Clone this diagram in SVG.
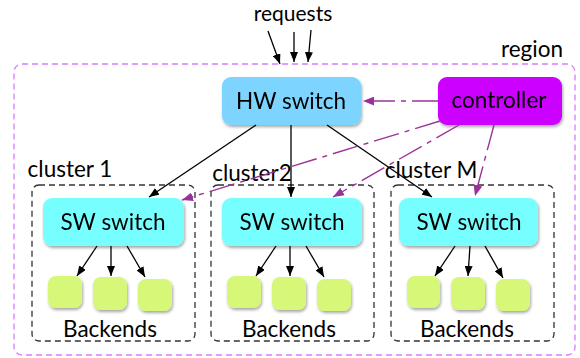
<svg xmlns="http://www.w3.org/2000/svg" width="580" height="358" viewBox="0 0 580 358">
<defs>
<filter id="sh" x="-10%" y="-10%" width="130%" height="140%">
<feDropShadow dx="1" dy="2" stdDeviation="1.5" flood-color="#000" flood-opacity="0.35"/>
</filter>
<marker id="ab" viewBox="0 0 10 8" refX="10" refY="4" markerWidth="10" markerHeight="8" markerUnits="userSpaceOnUse" orient="auto">
<path d="M0,0 L10,4 L0,8 Z" fill="#000"/>
</marker>
<marker id="ap" viewBox="0 0 10 8" refX="10" refY="4" markerWidth="11" markerHeight="9" markerUnits="userSpaceOnUse" orient="auto">
<path d="M0,0 L10,4 L0,8 Z" fill="#993399"/>
</marker>
</defs>
<style>
text{font-family:Lato,"Open Sans","Liberation Sans",sans-serif;fill:#000;}
.lbl{font-size:22.5px;text-anchor:middle;}
.hw{fill:#7dd5ff;}
.ctl{fill:#cc00ff;}
.sw{fill:#77ffff;}
.be{fill:#d6f778;}
.node{filter:url(#sh);}
.cl{fill:none;stroke:#333;stroke-width:1.3;stroke-dasharray:6,4;}
.blk{stroke:#000;stroke-width:1.3;fill:none;marker-end:url(#ab);}
.pur{stroke:#993399;stroke-width:1.4;fill:none;stroke-dasharray:26,6,5,6;marker-end:url(#ap);}
</style>
<rect id="region" x="14" y="64" width="561" height="291" rx="8" fill="none" stroke="#d77cff" stroke-width="1.3" stroke-dasharray="6,4"/>
<text class="lbl" x="532" y="57">region</text>
<text class="lbl" x="293" y="21" style="font-size:21px">requests</text>

<g id="cluster1">
<rect class="cl" x="32" y="185" width="163" height="156" rx="7"/>
<text class="lbl" x="70" y="177">cluster 1</text>
</g>
<g id="cluster2">
<rect class="cl" x="211" y="185" width="163" height="156" rx="7"/>
<text class="lbl" x="252" y="181">cluster2</text>
</g>
<g id="clusterM">
<rect class="cl" x="391" y="185" width="163" height="156" rx="7"/>
<text class="lbl" x="431" y="178">cluster M</text>
</g>

<g id="hw-switch" class="node"><rect class="hw" x="222" y="77" width="139" height="48" rx="9"/><text class="lbl" x="291" y="109">HW switch</text></g>
<g id="controller" class="node"><rect class="ctl" x="438" y="77" width="124" height="48" rx="9"/><text class="lbl" x="499" y="108">controller</text></g>

<g id="sw1" class="node"><rect class="sw" x="43" y="198" width="141" height="48" rx="9"/><text class="lbl" x="113" y="230">SW switch</text></g>
<g id="sw2" class="node"><rect class="sw" x="222" y="198" width="140" height="48" rx="9"/><text class="lbl" x="292" y="230">SW switch</text></g>
<g id="swM" class="node"><rect class="sw" x="399" y="198" width="139" height="48" rx="9"/><text class="lbl" x="469" y="230">SW switch</text></g>

<g id="backends1">
<rect class="be node" x="48" y="276" width="34" height="32" rx="8"/>
<rect class="be node" x="93" y="277" width="34" height="33" rx="8"/>
<rect class="be node" x="138" y="279" width="34" height="32" rx="8"/>
<text class="lbl" x="110" y="337">Backends</text>
</g>
<g id="backends2">
<rect class="be node" x="227" y="276" width="34" height="32" rx="8"/>
<rect class="be node" x="272" y="277" width="34" height="33" rx="8"/>
<rect class="be node" x="317" y="279" width="34" height="32" rx="8"/>
<text class="lbl" x="289" y="337">Backends</text>
</g>
<g id="backendsM">
<rect class="be node" x="407" y="276" width="33" height="32" rx="8"/>
<rect class="be node" x="451" y="277" width="34" height="33" rx="8"/>
<rect class="be node" x="496" y="279" width="34" height="32" rx="8"/>
<text class="lbl" x="467" y="337">Backends</text>
</g>

<g id="connectors">
<line class="blk" x1="268" y1="31" x2="280" y2="64"/>
<line class="blk" x1="294" y1="32" x2="294" y2="62"/>
<line class="blk" x1="311" y1="30" x2="308" y2="62"/>

<line class="blk" x1="256" y1="125" x2="149" y2="197"/>
<line class="blk" x1="291" y1="125" x2="291" y2="197"/>
<line class="blk" x1="327" y1="125" x2="432" y2="197"/>

<line class="blk" x1="97" y1="246" x2="77" y2="276"/>
<line class="blk" x1="111" y1="246" x2="111" y2="276"/>
<line class="blk" x1="127" y1="246" x2="145" y2="277"/>

<line class="blk" x1="276" y1="246" x2="256" y2="276"/>
<line class="blk" x1="290" y1="246" x2="290" y2="276"/>
<line class="blk" x1="306" y1="246" x2="324" y2="277"/>

<line class="blk" x1="455" y1="246" x2="435" y2="276"/>
<line class="blk" x1="470" y1="246" x2="468" y2="276"/>
<line class="blk" x1="485" y1="246" x2="503" y2="278"/>

<line class="pur" x1="438" y1="101" x2="363" y2="101"/>
<line class="pur" x1="440" y1="121" x2="182" y2="200"/>
<line class="pur" x1="459" y1="125" x2="333" y2="197"/>
<line class="pur" x1="494" y1="125" x2="475" y2="196"/>
</g>
</svg>
